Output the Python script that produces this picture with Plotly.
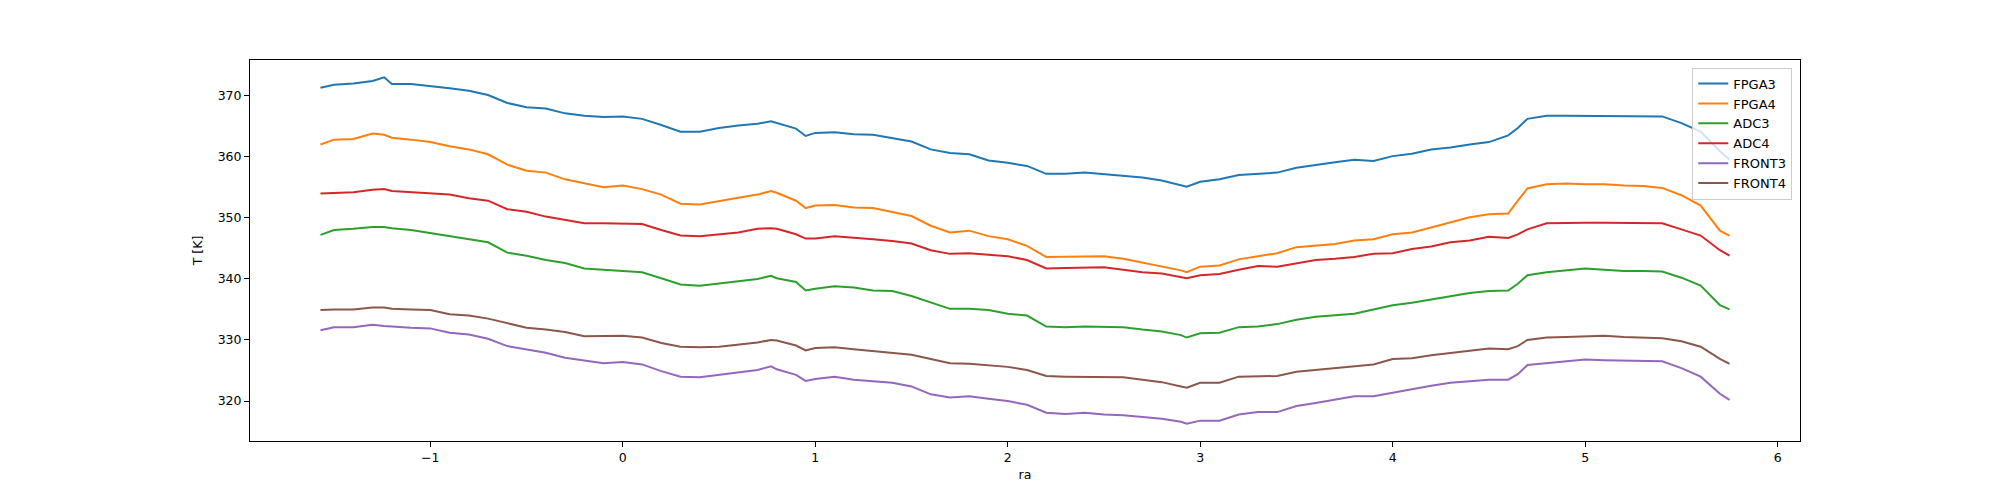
import plotly.graph_objects as go

ra = [-1.5708, -1.5, -1.4, -1.3, -1.24, -1.2, -1.1, -1.0, -0.9, -0.8, -0.7, -0.6, -0.5, -0.4, -0.3, -0.2, -0.1,
      0.0, 0.1, 0.2, 0.3, 0.4, 0.5, 0.6, 0.7, 0.77, 0.8, 0.9, 0.95, 1.0, 1.1, 1.2, 1.3, 1.4, 1.5, 1.6, 1.7, 1.8, 1.9,
      2.0, 2.1, 2.2, 2.3, 2.4, 2.5, 2.6, 2.7, 2.8, 2.9, 2.93, 3.0, 3.1, 3.2, 3.3, 3.4, 3.5, 3.6, 3.7, 3.8, 3.9,
      4.0, 4.1, 4.2, 4.3, 4.4, 4.5, 4.6, 4.65, 4.7, 4.8, 4.9, 5.0, 5.1, 5.2, 5.3, 5.4, 5.5, 5.6, 5.7, 5.75]

fpga3 = [371.3, 371.8, 372.0, 372.4, 373.0, 371.9, 371.9, 371.6, 371.2, 370.8, 370.1, 368.8, 368.1, 367.9, 367.1, 366.7, 366.5,
         366.6, 366.2, 365.2, 364.1, 364.1, 364.7, 365.1, 365.4, 365.8, 365.5, 364.6, 363.4, 363.9, 364.0, 363.7, 363.6, 363.1, 362.5, 361.2, 360.6, 360.4, 359.4,
         359.0, 358.5, 357.2, 357.2, 357.4, 357.1, 356.8, 356.6, 356.1, 355.3, 355.1, 355.9, 356.3, 357.0, 357.2, 357.4, 358.2, 358.7, 359.1, 359.5, 359.3,
         360.1, 360.5, 361.2, 361.5, 362.0, 362.4, 363.5, 364.7, 366.2, 366.7, 366.7, 366.7, 366.7, 366.7, 366.7, 366.6, 365.5, 364.1, 360.9, 359.5]

fpga4 = [362.0, 362.8, 362.9, 363.8, 363.6, 363.1, 362.8, 362.4, 361.7, 361.2, 360.4, 358.7, 357.7, 357.4, 356.3, 355.7, 355.0,
         355.3, 354.7, 353.8, 352.3, 352.2, 352.8, 353.3, 353.8, 354.4, 354.1, 352.8, 351.6, 352.0, 352.1, 351.7, 351.6, 350.9, 350.3, 348.7, 347.6, 347.9, 347.0,
         346.5, 345.4, 343.6, 343.6, 343.7, 343.7, 343.3, 342.7, 342.0, 341.4, 341.1, 342.0, 342.2, 343.2, 343.7, 344.2, 345.2, 345.4, 345.7, 346.3, 346.5,
         347.3, 347.6, 348.4, 349.2, 350.1, 350.6, 350.7, 352.8, 354.8, 355.5, 355.6, 355.5, 355.5, 355.3, 355.2, 354.9, 353.7, 352.0, 347.9, 347.1]

adc3 = [347.2, 348.0, 348.2, 348.5, 348.5, 348.3, 348.0, 347.5, 347.1, 346.5, 346.0, 344.3, 343.8, 343.1, 342.6, 341.7, 341.5,
        341.4, 341.1, 340.1, 339.1, 338.9, 339.2, 339.6, 340.0, 340.5, 340.1, 339.5, 338.1, 338.4, 338.8, 338.6, 338.1, 338.0, 337.2, 336.1, 335.1, 335.1, 334.9,
        334.3, 334.0, 332.2, 332.1, 332.2, 332.1, 332.1, 331.7, 331.4, 330.8, 330.4, 331.1, 331.2, 332.1, 332.2, 332.6, 333.3, 333.8, 334.1, 334.3, 335.0,
        335.7, 336.1, 336.6, 337.2, 337.7, 338.0, 338.1, 339.2, 340.6, 341.1, 341.4, 341.7, 341.5, 341.3, 341.3, 341.2, 340.2, 338.9, 335.7, 335.0]

adc4 = [354.0, 354.1, 354.2, 354.6, 354.7, 354.4, 354.2, 354.1, 353.8, 353.2, 352.8, 351.4, 351.0, 350.2, 349.7, 349.1, 349.1,
        349.1, 349.0, 348.0, 347.1, 347.0, 347.3, 347.6, 348.2, 348.3, 348.2, 347.3, 346.6, 346.6, 347.0, 346.8, 346.5, 346.2, 345.8, 344.7, 344.1, 344.2, 344.0,
        343.7, 343.1, 341.7, 341.8, 341.9, 341.9, 341.5, 341.1, 340.9, 340.2, 340.1, 340.6, 340.8, 341.5, 342.1, 342.0, 342.5, 343.1, 343.3, 343.6, 344.1,
        344.2, 344.9, 345.3, 346.0, 346.3, 346.9, 346.7, 347.3, 348.1, 349.1, 349.2, 349.2, 349.2, 349.2, 349.2, 349.1, 348.1, 347.1, 344.7, 343.8]

front3 = [331.6, 332.1, 332.1, 332.5, 332.3, 332.2, 332.0, 331.9, 331.2, 330.9, 330.2, 329.0, 328.4, 327.9, 327.1, 326.7, 326.2,
          326.4, 326.0, 324.9, 324.0, 323.9, 324.3, 324.7, 325.1, 325.7, 325.2, 324.3, 323.3, 323.6, 324.0, 323.5, 323.2, 323.0, 322.4, 321.1, 320.6, 320.8, 320.4,
          320.0, 319.4, 318.1, 317.9, 318.1, 317.8, 317.7, 317.4, 317.1, 316.6, 316.3, 316.8, 316.8, 317.8, 318.2, 318.2, 319.2, 319.7, 320.2, 320.8, 320.8,
          321.4, 322.0, 322.5, 323.0, 323.2, 323.5, 323.5, 324.4, 325.9, 326.2, 326.5, 326.8, 326.7, 326.6, 326.6, 326.5, 325.4, 324.0, 321.2, 320.2]

front4 = [334.9, 335.0, 335.0, 335.3, 335.3, 335.1, 335.0, 334.9, 334.2, 334.0, 333.5, 332.7, 332.0, 331.7, 331.3, 330.6, 330.7,
          330.7, 330.4, 329.5, 328.9, 328.8, 328.9, 329.2, 329.6, 330.0, 329.9, 329.1, 328.3, 328.7, 328.8, 328.5, 328.2, 328.0, 327.6, 326.9, 326.2, 326.1, 325.9,
          325.6, 325.1, 324.1, 324.0, 324.0, 324.0, 323.9, 323.5, 323.1, 322.4, 322.2, 323.0, 323.0, 324.0, 324.1, 324.1, 324.8, 325.1, 325.4, 325.8, 326.0,
          326.9, 327.0, 327.5, 327.9, 328.2, 328.6, 328.5, 329.0, 330.0, 330.4, 330.5, 330.6, 330.7, 330.5, 330.4, 330.3, 329.8, 328.9, 326.9, 326.1]

series_names = ["FPGA3", "FPGA4", "ADC3", "ADC4", "FRONT3", "FRONT4"]
series_values = [fpga3, fpga4, adc3, adc4, front3, front4]
colors = ["#1f77b4", "#ff7f0e", "#2ca02c", "#d62728", "#9467bd", "#8c564b"]

x_ticks = [-1, 0, 1, 2, 3, 4, 5, 6]
y_ticks = [320, 330, 340, 350, 360, 370]

fig = go.Figure()
for name, vals, col in zip(series_names, series_values, colors):
    fig.add_trace(go.Scatter(x=ra, y=vals, mode="lines", name=name,
                             line=dict(color=col, width=2)))

xmin, xmax = min(ra), max(ra)
allv = [v for s in series_values for v in s]
ymin, ymax = min(allv), max(allv)
xpad = 0.05 * (xmax - xmin)
ypad = 0.05 * (ymax - ymin)

font = "DejaVu Sans"
axis_common = dict(showline=True, linecolor="black", linewidth=1, mirror=True,
                   ticks="outside", ticklen=5, tickwidth=1, tickcolor="black",
                   showgrid=False, zeroline=False,
                   tickfont=dict(family=font, size=12.5, color="black"),
                   title_font=dict(family=font, size=12.5, color="black"))

fig.update_layout(
    width=1984, height=484,
    margin=dict(l=242, r=192, t=52, b=47),
    plot_bgcolor="white", paper_bgcolor="white",
    font=dict(family=font, size=12.5, color="black"),
    xaxis=dict(range=[xmin - xpad, xmax + xpad], tickvals=x_ticks,
               ticktext=[("\u2212" + str(abs(t))) if t < 0 else str(t) for t in x_ticks],
               title=dict(text="ra", standoff=6), **axis_common),
    yaxis=dict(range=[ymin - ypad, ymax + ypad], tickvals=y_ticks,
               title=dict(text="T [K]", standoff=12), **axis_common),
    legend=dict(x=0.995, y=0.98, xanchor="right", yanchor="top",
                bgcolor="rgba(255,255,255,0.8)", bordercolor="#cccccc", borderwidth=1,
                font=dict(family=font, size=13, color="black"),
                itemwidth=30, tracegroupgap=0),
    showlegend=True,
)

fig.write_html("out.html")
